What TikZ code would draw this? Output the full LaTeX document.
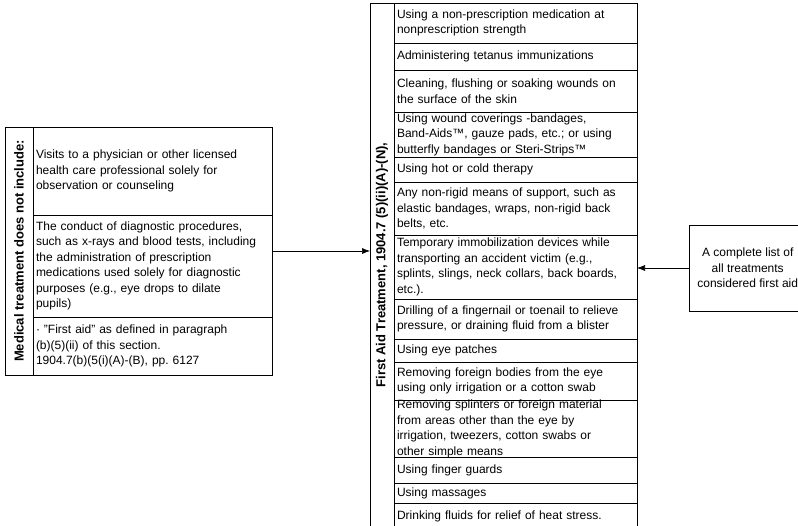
\documentclass[tikz,border=0pt]{standalone}
\usepackage{fontspec}
\setmainfont{Liberation Sans}
\usepackage{graphicx}
\usetikzlibrary{positioning, arrows.meta}
\frenchspacing
\tikzset{
	font = \fontsize{12}{15.5}\selectfont,
	line width = .8pt,
	cell/.style={
		draw,
		align=left,
		inner xsep=3pt,
		inner ysep=0pt,
		outer sep=0pt
	},
	mcell/.style={cell, text width=233pt, minimum height=#1},
	fcell/.style={cell, text width=237pt, minimum height=#1},
	header/.style={
		draw,
		inner sep=0pt,
		outer sep=0pt,
		font=\fontsize{13}{15}\selectfont\bfseries
	},
	link/.style={
		-{Latex[length=8pt, width=6pt]},
		line width=.6pt
	}
}

\begin{document}
\begin{tikzpicture}[x=1pt, y=-1pt]
\useasboundingbox (0,0) rectangle (798,525);

% ---
% Not medical treatment
% ---
\node[header, minimum width=28pt, minimum height=248pt, anchor=north west] (mcol) at (5,127) {\rotatebox{90}{Medical treatment does not include:}};
\node[mcell=88pt, below right=0pt and 0pt of mcol.north east] (m1) {Visits to a physician or other licensed\\health care professional solely for\\observation or counseling};
\node[mcell=102pt, below right=0pt and 0pt of m1.south west] (m2) {The conduct of diagnostic procedures,\\such as x-rays and blood tests, including\\the administration of prescription\\medications used solely for diagnostic\\purposes (e.g., eye drops to dilate\\pupils)};
\node[mcell=58pt, below right=0pt and 0pt of m2.south west] (m3) {· "First aid" as defined in paragraph\\(b)(5)(ii) of this section.\\1904.7(b)(5(i)(A)-(B), pp. 6127};

% ---
% First aid list
% ---
\node[header, minimum width=24pt, minimum height=524pt, anchor=north west] (fcol) at (370,3) {\rotatebox{90}{First Aid Treatment, 1904.7 (5)(ii)(A)-(N),}};
\foreach \h/\txt [count=\i] in {
	40/{Using a non-prescription medication at\\nonprescription strength},
	27/{Administering tetanus immunizations},
	42/{Cleaning, flushing or soaking wounds on\\the surface of the skin},
	45/{Using wound coverings -bandages,\\Band-Aids™, gauze pads, etc.; or using\\butterfly bandages or Steri-Strips™},
	25/{Using hot or cold therapy},
	53/{Any non-rigid means of support, such as\\elastic bandages, wraps, non-rigid back\\belts, etc.},
	64/{Temporary immobilization devices while\\transporting an accident victim (e.g.,\\splints, slings, neck collars, back boards,\\etc.).},
	40/{Drilling of a fingernail or toenail to relieve\\pressure, or draining fluid from a blister},
	23/{Using eye patches},
	38/{Removing foreign bodies from the eye\\using only irrigation or a cotton swab},
	57/{Removing splinters or foreign material\\from areas other than the eye by\\irrigation, tweezers, cotton swabs or\\other simple means},
	26/{Using finger guards},
	20/{Using massages},
	25/{Drinking fluids for relief of heat stress.}
} {
	\pgfmathtruncatemacro{\prev}{\i - 1}
	\ifnum\i=1
		\node[fcell=\h pt, below right=0pt and 0pt of fcol.north east] (f\i) {\txt};
	\else
		\node[fcell=\h pt, below right=0pt and 0pt of f\prev.south west] (f\i) {\txt};
	\fi
}

% ---
% Complete list
% ---
\node[draw, align=center, minimum width=117pt, minimum height=86pt, anchor=west] (rbox) at (689,268) {A complete list of\\all treatments\\considered first aid};

\draw[link] (m2.east |- mcol.center) -- (fcol.west |- mcol.center);
\draw[link] (rbox.west) -- (rbox.west -| f7.east);
\end{tikzpicture}
\end{document}
